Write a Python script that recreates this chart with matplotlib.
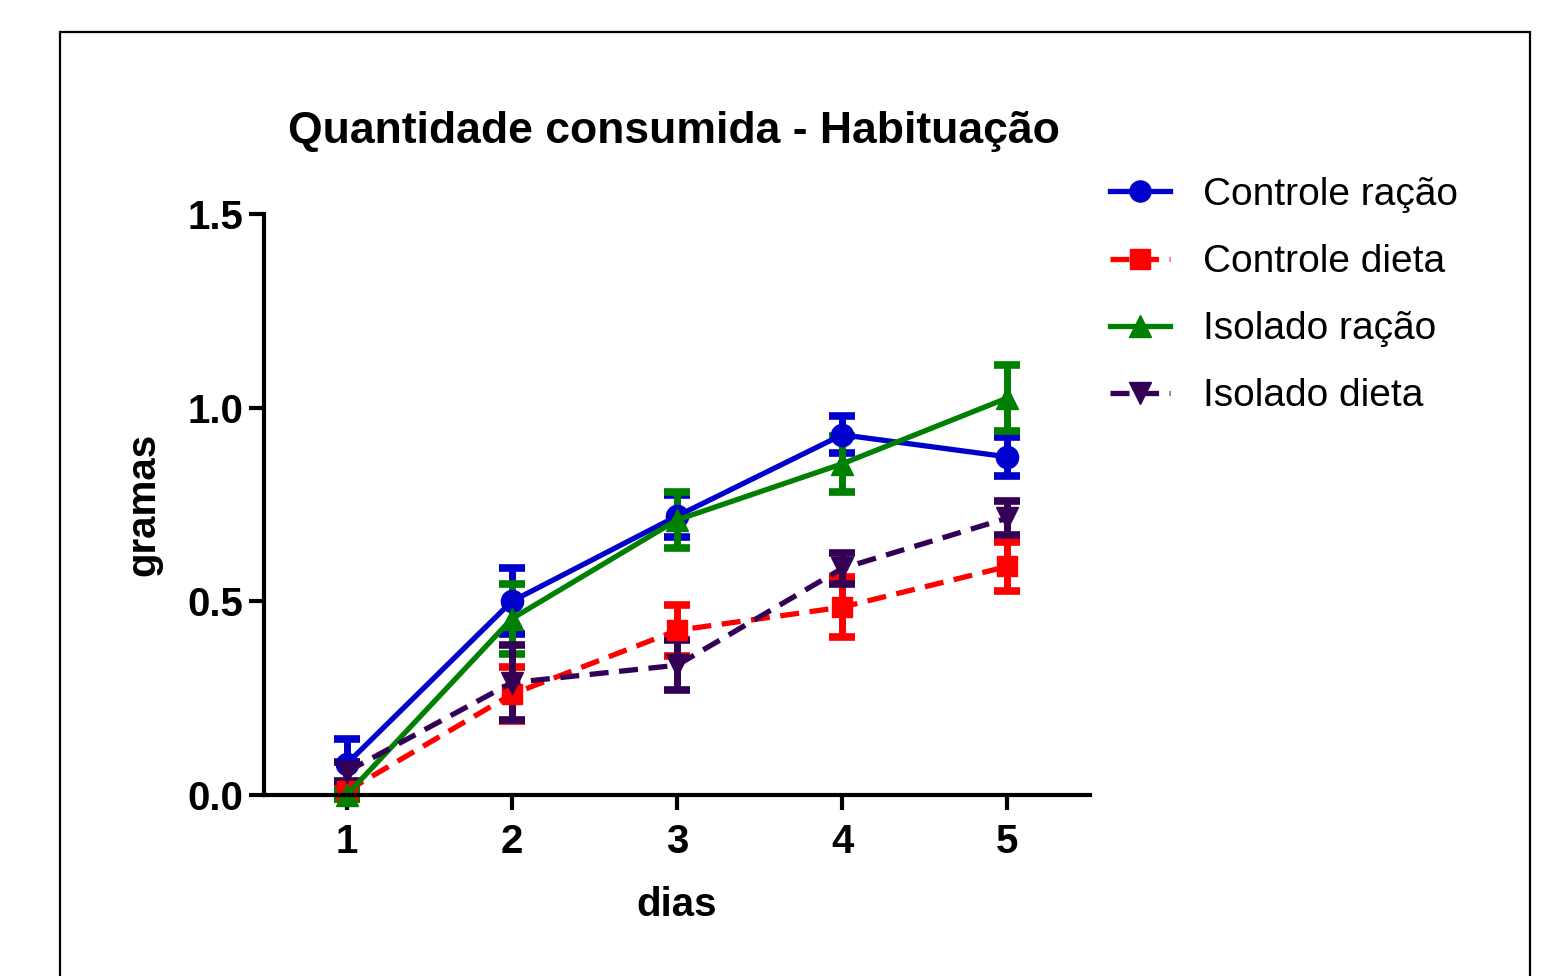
import matplotlib
matplotlib.use("Agg")
import matplotlib.pyplot as plt
from matplotlib.patches import Rectangle
from matplotlib.lines import Line2D
from matplotlib.ticker import FormatStrFormatter

plt.rcParams['font.family'] = ['Liberation Sans', 'DejaVu Sans']

dias = [1, 2, 3, 4, 5]
series_names = ["Controle ração", "Controle dieta", "Isolado ração", "Isolado dieta"]
controle_racao = [0.08, 0.50, 0.72, 0.93, 0.873]
controle_racao_err = [0.065, 0.085, 0.055, 0.048, 0.05]
controle_dieta = [0.01, 0.26, 0.425, 0.485, 0.59]
controle_dieta_err = [0.02, 0.07, 0.065, 0.078, 0.063]
isolado_racao = [0.0, 0.455, 0.71, 0.855, 1.025]
isolado_racao_err = [0.01, 0.09, 0.073, 0.072, 0.085]
isolado_dieta = [0.06, 0.29, 0.335, 0.585, 0.715]
isolado_dieta_err = [0.025, 0.097, 0.065, 0.04, 0.045]
yticks = [0.0, 0.5, 1.0, 1.5]

fig = plt.figure(figsize=(15.58, 9.76), dpi=100)
fig.patches.append(Rectangle((60/1558, -0.05), (1530-60)/1558, 1.05 - 32/976,
                             transform=fig.transFigure, fill=False,
                             edgecolor='black', linewidth=1.6))

ax = fig.add_axes([264/1558, 1-795/976, (1090-264)/1558, (795-214)/976])

dash = (0, (3.6, 2.0))
styles = [
    (controle_racao, controle_racao_err, '#0000CC', 'o', '-', 16),
    (controle_dieta, controle_dieta_err, '#FF0000', 's', dash, 15),
    (isolado_racao, isolado_racao_err, '#008000', '^', '-', 16),
    (isolado_dieta, isolado_dieta_err, '#330055', 'v', dash, 16),
]
for (vals, errs, col, mk, ls, ms), name in zip(styles, series_names):
    eb = ax.errorbar(dias, vals, yerr=errs, color=col, marker=mk, linestyle=ls,
                     linewidth=3.8, markersize=ms, elinewidth=5, capsize=9.5,
                     capthick=5.5, label=name, clip_on=False)
    eb[0].set_clip_on(False)
    for c in eb[1]:
        c.set_clip_on(False)
        c.set_markeredgewidth(5.5)
    for c in eb[2]:
        c.set_clip_on(False)

ax.set_xlim(0.5, 5.5)
ax.set_ylim(0, 1.5)
ax.set_xticks(dias)
ax.set_yticks(yticks)
ax.yaxis.set_major_formatter(FormatStrFormatter('%.1f'))
for s in ['top', 'right']:
    ax.spines[s].set_visible(False)
for s in ['left', 'bottom']:
    ax.spines[s].set_linewidth(3)
ax.tick_params(axis='both', direction='out', length=11, width=3, labelsize=29)
ax.tick_params(axis='x', pad=9)
ax.tick_params(axis='y', pad=4)
for lab in ax.get_xticklabels() + ax.get_yticklabels():
    lab.set_fontweight('bold')

ax.set_xlabel('dias', fontsize=29, fontweight='bold', labelpad=18)
ax.set_ylabel('gramas', fontsize=29, fontweight='bold', labelpad=18)
fig.text(674/1558, 1-131/976, 'Quantidade consumida - Habituação', fontsize=32,
         fontweight='bold', ha='center', va='center')

leg_handles = []
for (vals, errs, col, mk, ls, ms), name in zip(styles, series_names):
    leg_handles.append(Line2D([], [], color=col, marker=mk, linestyle=ls,
                              linewidth=3.8, markersize=ms * 0.95))
fig.legend(leg_handles, series_names, loc='upper left',
           bbox_to_anchor=(1110/1558, 1-177/976), frameon=False,
           fontsize=28, handlelength=1.55, handletextpad=0.85,
           labelspacing=0.80, borderaxespad=0, borderpad=0)

fig.savefig('out.png', dpi=100)
